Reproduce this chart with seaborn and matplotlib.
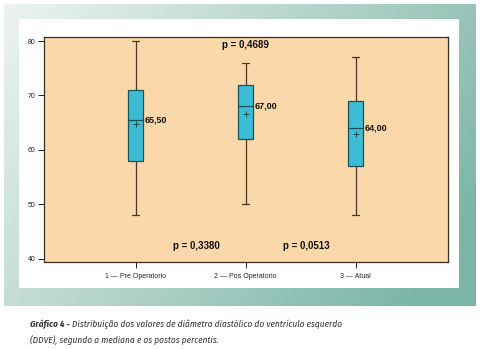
import numpy as np
import pandas as pd
import matplotlib
matplotlib.use("Agg")
import matplotlib.pyplot as plt
import seaborn as sns

# ---- data ----
categories = ["1 \u2014 Pre Operatorio", "2 \u2014 Pos Operatorio", "3 \u2014 Atual"]
whisker_low = [48, 50, 48]
q1 = [58, 62, 57]
medians = [65.5, 68, 64]
q3 = [71, 72, 69]
whisker_high = [80, 76, 77]
means = [64.8, 66.5, 63.0]
median_labels = ["65,50", "67,00", "64,00"]
p_labels = ["p = 0,4689", "p = 0,3380", "p = 0,0513"]
yticks = [40, 50, 60, 70, 80]
caption_bold = "Gráfico 4 - "
caption_rest1 = "Distribuição dos valores de diâmetro diastólico do ventrículo esquerdo"
caption_rest2 = "(DDVE), segundo a mediana e os postos percentis."

rows = []
for c, a, b, m, d, e in zip(categories, whisker_low, q1, medians, q3, whisker_high):
    for v in (a, b, m, d, e):
        rows.append({"grupo": c, "valor": v})
df = pd.DataFrame(rows)

sns.set_theme(style="white")
plt.rcParams["font.family"] = ["Liberation Sans", "DejaVu Sans"]

W, H = 481, 349
fig = plt.figure(figsize=(W / 100, H / 100), dpi=100)
fig.patch.set_facecolor("white")

# teal gradient frame
bg = fig.add_axes([0, 0, 1, 1], zorder=-10)
bg.set_axis_off()
xx, yy = np.meshgrid(np.linspace(0, 1, 200), np.linspace(0, 1, 150))
t = np.clip(0.75 * xx + 0.35 * yy, 0, 1)
light = np.array([0.93, 0.955, 0.945])
dark = np.array([0.48, 0.71, 0.65])
img = light[None, None, :] * (1 - t[..., None]) + dark[None, None, :] * t[..., None]
x0, x1 = 4 / W, 476 / W
y0, y1 = 1 - 306 / H, 1 - 4.5 / H
bg.set_xlim(0, 1)
bg.set_ylim(0, 1)
bg.imshow(img, extent=[x0, x1, y0, y1], origin="upper", aspect="auto")
bg.add_patch(plt.Rectangle((19 / W, 1 - 288 / H), (459 - 19) / W, (288 - 19) / H,
                           facecolor="white", edgecolor="none"))

ax = fig.add_axes([44 / W, 1 - 262.3 / H, (447.7 - 44) / W, (262.3 - 37.3) / H])
ax.set_facecolor("#fbd8a9")

sns.boxplot(data=df, x="grupo", y="valor", order=categories, ax=ax,
            whis=(0, 100), width=0.133, saturation=1, color="#3cbdd5",
            linewidth=0.9,
            boxprops=dict(edgecolor="#17535a"),
            medianprops=dict(color="#17535a"),
            whiskerprops=dict(color="#4a3526"),
            capprops=dict(color="#4a3526"),
            showfliers=False)

ax.plot(range(3), means, linestyle="none", marker="+", color="#1d4a50",
        markersize=4, markeredgewidth=0.7, zorder=5)

for i, (m, lab) in enumerate(zip(medians, median_labels)):
    ax.text(i + 0.085, m, lab, fontsize=6.5, fontweight="bold", color="#111111",
            va="center", ha="left")

ax.text(1, 79.3, p_labels[0], fontsize=7, fontweight="bold", ha="center", va="center", color="#111111")
ax.text(0.55, 42.3, p_labels[1], fontsize=7, fontweight="bold", ha="center", va="center", color="#111111")
ax.text(1.55, 42.3, p_labels[2], fontsize=7, fontweight="bold", ha="center", va="center", color="#111111")

ax.set_xlim(-0.834, 2.836)
ax.set_ylim(39.34, 80.68)
ax.set_yticks(yticks)
ax.set_yticklabels([str(v) for v in yticks])
ax.set_xlabel("")
ax.set_ylabel("")
ax.tick_params(axis="both", which="both", direction="out", length=4, width=0.7,
               colors="#222222", labelsize=5, pad=2, left=True, bottom=True)
ax.tick_params(axis="x", pad=4)
for s in ax.spines.values():
    s.set_color("#3a2d22")
    s.set_linewidth(0.9)

# caption
cap_color = "#333333"
cap_size = 6.7
cap_family = ["Fira Sans Condensed", "DejaVu Sans"]
fig.canvas.draw()
r = fig.canvas.get_renderer()
tb = fig.text(30 / W, 1 - 324 / H, caption_bold, fontsize=cap_size, fontweight="bold",
              style="italic", family=cap_family, color=cap_color, va="center")
bb = tb.get_window_extent(renderer=r)
fig.text(bb.x1 / W, 1 - 324 / H, caption_rest1, fontsize=cap_size, style="italic",
         family=cap_family, color=cap_color, va="center")
fig.text(30 / W, 1 - 340 / H, caption_rest2, fontsize=cap_size, style="italic",
         family=cap_family, color=cap_color, va="center")

fig.savefig("out.png", dpi=100)
